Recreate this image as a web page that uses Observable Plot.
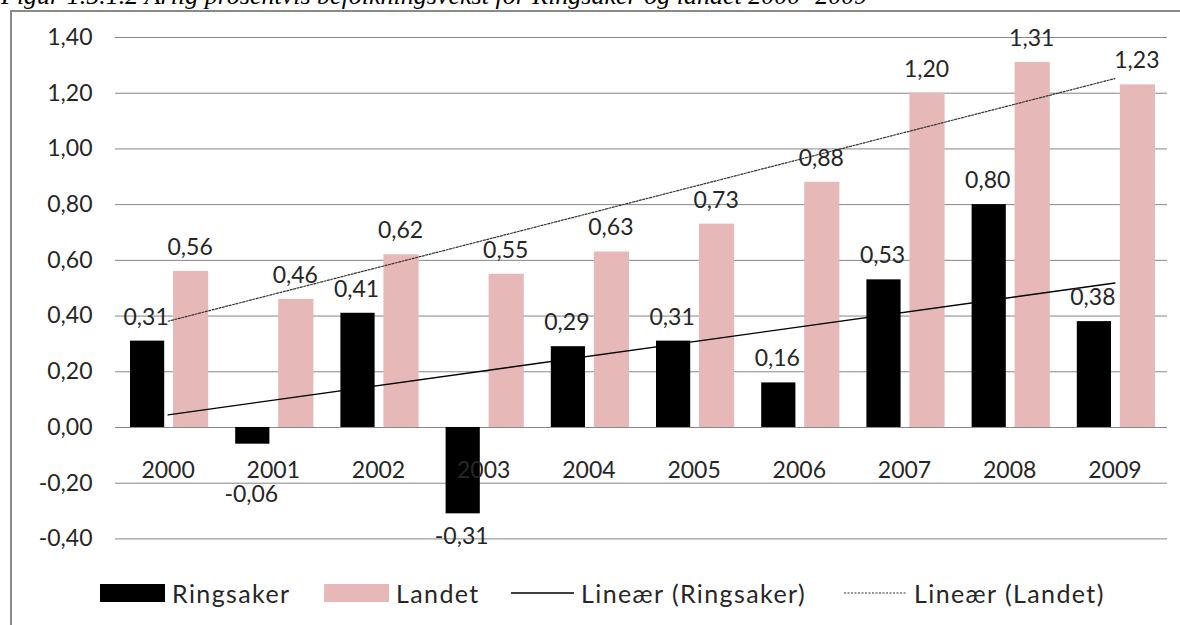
<!DOCTYPE html>
<html>
<head>
<meta charset="utf-8">
<script src="https://cdn.jsdelivr.net/npm/d3@7"></script>
<script src="https://cdn.jsdelivr.net/npm/@observablehq/plot@0.6"></script>
<style>
  html, body { margin: 0; padding: 0; background: #fff; overflow: hidden; }
  #wrap { position: relative; width: 1180px; height: 625px; overflow: hidden; }
  #title { position: absolute; left: 1px; top: -17px; font-family: "Liberation Serif", serif; font-style: italic; font-weight: normal; font-size: 26px; line-height: 26px; white-space: nowrap; color: #000; }
  #frame { position: absolute; left: 10px; top: 10px; right: -5px; bottom: -5px; border-left: 2px solid #8a8a8a; border-top: 2px solid #8a8a8a; }
  #chart { position: absolute; left: 0; top: 0; }
  #legend { position: absolute; left: 0; top: 560px; width: 1180px; height: 65px; font-family: "Lato", sans-serif; font-size: 25px; letter-spacing: 1.4px; color: #262626; }
  .item { position: absolute; top: 20px; display: flex; align-items: center; height: 26px; white-space: nowrap; }
  .sw { display: inline-block; width: 65px; height: 18px; margin-right: 7px; }
</style>
</head>
<body>
<div id="wrap">
  <div id="frame"></div>
  <div id="title">Figur 1.5.1.2 Årlig prosentvis befolkningsvekst for Ringsaker og landet 2000- 2009</div>
  <div id="chart"></div>
  <div id="legend"></div>
</div>
<script>
const years = [2000, 2001, 2002, 2003, 2004, 2005, 2006, 2007, 2008, 2009];
const ringsaker = [0.31, -0.06, 0.41, -0.31, 0.29, 0.31, 0.16, 0.53, 0.80, 0.38];
const landet = [0.56, 0.46, 0.62, 0.55, 0.63, 0.73, 0.88, 1.20, 1.31, 1.23];
const yTicks = [-0.4, -0.2, 0, 0.2, 0.4, 0.6, 0.8, 1.0, 1.2, 1.4];
const seriesNames = ["Ringsaker", "Landet"];
const trendNames = ["Lineær (Ringsaker)", "Lineær (Landet)"];
const colors = ["#000000", "#e6b9b8"];

const fmt = v => v.toFixed(2).replace(".", ",");
const rowsR = years.map((y, i) => ({year: y, value: ringsaker[i]}));
const rowsL = years.map((y, i) => ({year: y, value: landet[i]}));

const chart = Plot.plot({
  width: 1180,
  height: 560,
  marginLeft: 115,
  marginRight: 13,
  marginTop: 37,
  marginBottom: 21.6,
  style: {fontFamily: "Lato, sans-serif", fontSize: "23px", color: "#262626", background: "transparent", overflow: "visible"},
  x: {type: "linear", domain: [1999.5, 2009.5], axis: null},
  y: {domain: [-0.4, 1.4], axis: null},
  marks: [
    Plot.gridY(yTicks, {stroke: "#868686", strokeOpacity: 1, strokeWidth: 1}),
    Plot.axisY(yTicks, {tickSize: 0, tickPadding: 23, tickFormat: fmt, fontSize: 23, fill: "#262626", label: null}),
    Plot.rectY(rowsR, {x1: d => d.year - 0.5, x2: d => d.year + 0.5, y1: 0, y2: "value", fill: colors[0], insetLeft: 15, insetRight: 56}),
    Plot.rectY(rowsL, {x1: d => d.year - 0.5, x2: d => d.year + 0.5, y1: 0, y2: "value", fill: colors[1], insetLeft: 58, insetRight: 12}),
    Plot.linearRegressionY(rowsR, {x: "year", y: "value", ci: 0, stroke: "#000", strokeWidth: 1.3}),
    Plot.linearRegressionY(rowsL, {x: "year", y: "value", ci: 0, stroke: "#333", strokeWidth: 1.2, strokeDasharray: "2,1.5"}),
    Plot.text(years, {x: d => d, y: 0, text: d => String(d), dy: 43, fontSize: 23, fill: "#262626"}),
    Plot.text(rowsR.filter(d => d.value >= 0), {x: "year", y: "value", text: d => fmt(d.value), dx: -22, dy: -24, fontSize: 23, fill: "#262626"}),
    Plot.text(rowsR.filter(d => d.value < 0 && d.value > -0.1), {x: "year", y: "value", text: d => fmt(d.value), dx: -22, dy: 50, fontSize: 23, fill: "#262626"}),
    Plot.text(rowsR.filter(d => d.value <= -0.1), {x: "year", y: "value", text: d => fmt(d.value), dx: -22, dy: 23, fontSize: 23, fill: "#262626"}),
    Plot.text(rowsL, {x: "year", y: "value", text: d => fmt(d.value), dx: 22, dy: -24, fontSize: 23, fill: "#262626"})
  ]
});
document.getElementById("chart").appendChild(chart);

// legend
const legend = document.getElementById("legend");
const lefts = [100, 324, 511, 844];
const items = [
  {label: seriesNames[0], kind: "swatch", color: colors[0]},
  {label: seriesNames[1], kind: "swatch", color: colors[1]},
  {label: trendNames[0], kind: "solid"},
  {label: trendNames[1], kind: "dotted"}
];
items.forEach((it, i) => {
  const el = document.createElement("div");
  el.className = "item";
  el.style.left = lefts[i] + "px";
  if (it.kind === "swatch") {
    const s = document.createElement("span");
    s.className = "sw";
    s.style.background = it.color;
    el.appendChild(s);
  } else {
    const ns = "http://www.w3.org/2000/svg";
    const svg = document.createElementNS(ns, "svg");
    svg.setAttribute("width", 63);
    svg.setAttribute("height", 18);
    svg.style.marginRight = "7px";
    const ln = document.createElementNS(ns, "line");
    ln.setAttribute("x1", 0); ln.setAttribute("x2", 63);
    ln.setAttribute("y1", 9); ln.setAttribute("y2", 9);
    ln.setAttribute("stroke", it.kind === "solid" ? "#000" : "#333");
    ln.setAttribute("stroke-width", it.kind === "solid" ? 1.3 : 1.2);
    if (it.kind === "dotted") ln.setAttribute("stroke-dasharray", "2,1.5");
    svg.appendChild(ln);
    el.appendChild(svg);
  }
  const t = document.createElement("span");
  t.textContent = it.label;
  el.appendChild(t);
  legend.appendChild(el);
});
</script>
</body>
</html>
